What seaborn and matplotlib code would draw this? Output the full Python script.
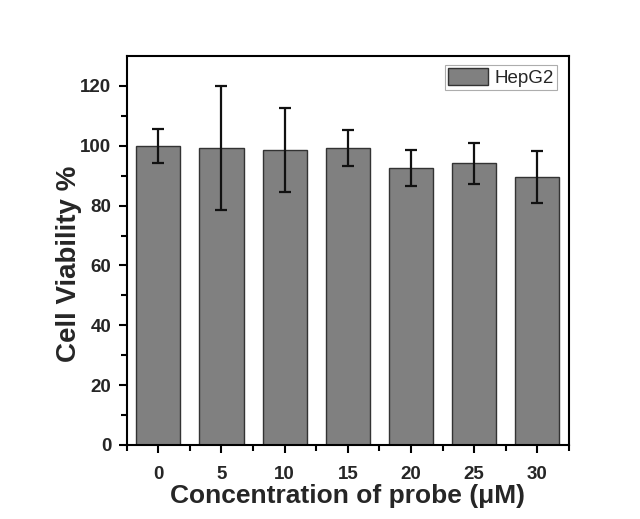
import matplotlib
matplotlib.use("Agg")
import matplotlib.pyplot as plt
import seaborn as sns
import pandas as pd
import numpy as np
from matplotlib.patches import Patch
from matplotlib.ticker import FixedLocator

concentrations = ["0", "5", "10", "15", "20", "25", "30"]
viability = [100.0, 99.2, 98.5, 99.2, 92.6, 94.1, 89.5]
errors = [5.6, 20.7, 14.1, 6.0, 6.0, 6.8, 8.6]
series_label = "HepG2"

sns.set_theme(style="ticks")
plt.rcParams['font.family'] = ['Liberation Sans', 'DejaVu Sans']

df = pd.DataFrame({"conc": concentrations, "viability": viability})

fig = plt.figure(figsize=(6.4, 5.19), dpi=100)
ax = fig.add_axes([0.198, 0.1426, 0.691, 0.7495])

sns.barplot(data=df, x="conc", y="viability", order=concentrations,
            color="#808080", saturation=1, width=0.7, errorbar=None,
            edgecolor="#333333", linewidth=1.0, ax=ax)
ax.errorbar(np.arange(len(concentrations)), viability, yerr=errors,
            fmt="none", ecolor="#111111", elinewidth=1.6, capsize=4, capthick=1.6)

ax.set_xlim(-0.5, len(concentrations) - 0.5)
ax.set_ylim(0, 130)
ax.yaxis.set_major_locator(FixedLocator([0, 20, 40, 60, 80, 100, 120]))
ax.yaxis.set_minor_locator(FixedLocator([10, 30, 50, 70, 90, 110]))
ax.xaxis.set_minor_locator(FixedLocator(np.arange(-0.5, len(concentrations), 1.0)))

for s in ax.spines.values():
    s.set_visible(True)
    s.set_color("black")
    s.set_linewidth(1.5)

ax.tick_params(axis="both", which="major", direction="out", length=6, width=1.5,
               color="black", labelsize=13.5, top=False, right=False)
ax.tick_params(axis="both", which="minor", direction="out", length=4, width=1.5,
               color="black", top=False, right=False)
for lab in ax.get_xticklabels() + ax.get_yticklabels():
    lab.set_fontweight("bold")
ax.tick_params(axis="x", which="major", pad=9)
ax.tick_params(axis="y", which="major", pad=5)

ax.set_xlabel("Concentration of probe (\u03bcM)", fontsize=19, fontweight="bold", labelpad=1)
ax.set_ylabel("Cell Viability %", fontsize=20, fontweight="bold")
ax.yaxis.set_label_coords(-0.101, 0.465)

handle = Patch(facecolor="#808080", edgecolor="#333333", linewidth=1.0, label=series_label)
leg = ax.legend(handles=[handle], loc="upper right", fontsize=13.5, frameon=True,
                fancybox=False, edgecolor="#999999", handlelength=2.15, handleheight=1.05,
                borderpad=0.15, handletextpad=0.35, borderaxespad=0,
                bbox_to_anchor=(0.973, 0.977))
leg.get_frame().set_linewidth(0.8)

fig.savefig("out.png", dpi=100, facecolor="white")
